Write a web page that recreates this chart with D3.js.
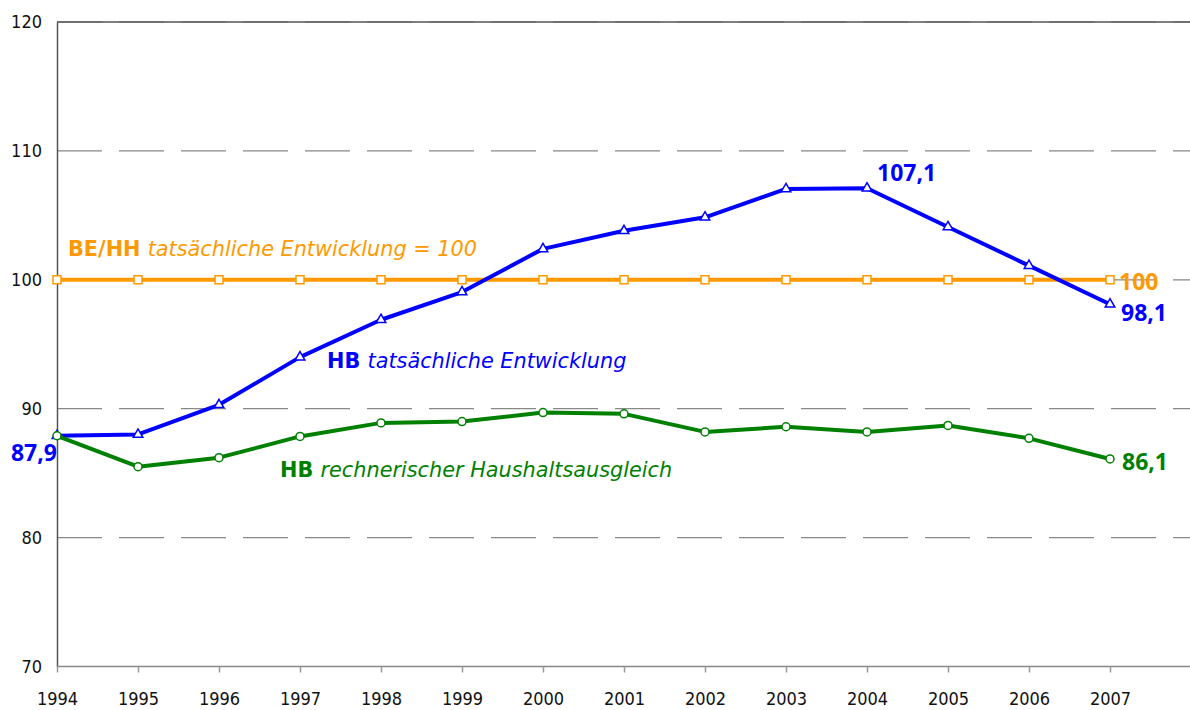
<!DOCTYPE html>
<html>
<head>
<meta charset="utf-8">
<script src="https://cdn.jsdelivr.net/npm/d3@7/dist/d3.min.js"></script>
<style>
  body { margin: 0; background: #fff; }
  svg text { font-family: "DejaVu Sans", sans-serif; }
</style>
</head>
<body>
<div id="chart"></div>
<script>
var years = [1994, 1995, 1996, 1997, 1998, 1999, 2000, 2001, 2002, 2003, 2004, 2005, 2006, 2007];
var beHH = [100, 100, 100, 100, 100, 100, 100, 100, 100, 100, 100, 100, 100, 100];
var hbActual = [87.9, 88.0, 90.3, 94.0, 96.9, 99.05, 102.4, 103.8, 104.85, 107.05, 107.1, 104.1, 101.1, 98.1];
var hbBalanced = [87.9, 85.5, 86.2, 87.85, 88.9, 89.0, 89.7, 89.6, 88.2, 88.6, 88.2, 88.7, 87.7, 86.1];
var yTicks = [70, 80, 90, 100, 110, 120];

var W = 1190, H = 710;
var svg = d3.select("#chart").append("svg").attr("width", W).attr("height", H);

var x = d3.scaleLinear().domain([1994, 2008]).range([57, 1191]);
var y = d3.scaleLinear().domain([70, 120]).range([666.5, 22]);

// dashed gridlines
svg.append("g").selectAll("line").data(yTicks.filter(function(d) { return d > 70; }))
  .enter().append("line")
  .attr("x1", x(1994)).attr("x2", W)
  .attr("y1", function(d) { return y(d); }).attr("y2", function(d) { return y(d); })
  .style("stroke", "#888").style("stroke-width", 1.2)
  .style("stroke-dasharray", "45,17");

// top border
svg.append("line").attr("x1", x(1994)).attr("x2", W).attr("y1", y(120)).attr("y2", y(120))
  .style("stroke", "#555").style("stroke-width", 1.5);

// y axis
var yAxis = d3.axisLeft(y).tickValues(yTicks).tickSize(0).tickPadding(15);
var gy = svg.append("g").attr("transform", "translate(" + x(1994) + ",0)").call(yAxis);
gy.select(".domain").style("stroke", "#555").style("stroke-width", 1.5);
gy.selectAll("text").style("font-family", "'DejaVu Sans Condensed', 'DejaVu Sans', sans-serif")
  .style("font-size", "18px").style("fill", "#111");

// x axis
var xAxis = d3.axisBottom(x).tickValues(years).tickFormat(d3.format("d")).tickSize(6).tickSizeOuter(0).tickPadding(20);
var gx = svg.append("g").attr("transform", "translate(0," + y(70) + ")").call(xAxis);
gx.select(".domain").attr("d", "M" + x(1994) + ",0H" + W).style("stroke", "#888").style("stroke-width", 1.5);
gx.selectAll(".tick line").style("stroke", "#999").style("stroke-width", 1.5);
gx.selectAll("text").style("font-family", "'DejaVu Sans Condensed', 'DejaVu Sans', sans-serif")
  .style("font-size", "18px").style("fill", "#111");

var line = d3.line().x(function(d) { return x(d[0]); }).y(function(d) { return y(d[1]); });

function series(vals, color, symbol, size) {
  var pts = years.map(function(yr, i) { return [yr, vals[i]]; });
  svg.append("path").datum(pts).attr("d", line)
    .style("fill", "none").style("stroke", color).style("stroke-width", 4)
    .style("stroke-linejoin", "round");
  svg.append("g").selectAll("path").data(pts).enter().append("path")
    .attr("transform", function(d) { return "translate(" + x(d[0]) + "," + y(d[1]) + ")"; })
    .attr("d", d3.symbol().type(symbol).size(size))
    .style("fill", "#fff").style("stroke", color).style("stroke-width", 1.5);
}

series(beHH, "#FF9900", d3.symbolSquare, 64);
series(hbActual, "#0000FF", d3.symbolTriangle, 40);
series(hbBalanced, "#008000", d3.symbolCircle, 50);

function label(xp, yp, parts, color, size, anchor, family) {
  var t = svg.append("text").attr("x", xp).attr("y", yp)
    .style("fill", color).style("font-size", size + "px")
    .attr("text-anchor", anchor || "start");
  if (family) t.style("font-family", family);
  parts.forEach(function(p) {
    t.append("tspan").text(p[0])
      .style("font-weight", p[1] ? "bold" : "normal")
      .style("font-style", p[2] ? "italic" : "normal");
  });
}

function fmt(v) { return d3.format(".1f")(v).replace(".", ","); }

label(68, 256, [["BE/HH ", true, false], ["tatsächliche Entwicklung = 100", false, true]], "#FF9900", 20.8);
label(327, 368, [["HB ", true, false], ["tatsächliche Entwicklung", false, true]], "#0000FF", 20.8);
label(280, 477, [["HB ", true, false], ["rechnerischer Haushaltsausgleich", false, true]], "#008000", 20.8);

var numFont = "'Noto Sans', sans-serif";
label(57, 461, [[fmt(hbActual[0]), true, false]], "#0000FF", 23, "end", numFont);
label(877, 181, [[fmt(hbActual[10]), true, false]], "#0000FF", 23, "start", numFont);
label(1119, 290, [["100", true, false]], "#FF9900", 23, "start", numFont);
label(1121, 321, [[fmt(hbActual[13]), true, false]], "#0000FF", 23, "start", numFont);
label(1122, 470, [[fmt(hbBalanced[13]), true, false]], "#008000", 23, "start", numFont);
</script>
</body>
</html>
